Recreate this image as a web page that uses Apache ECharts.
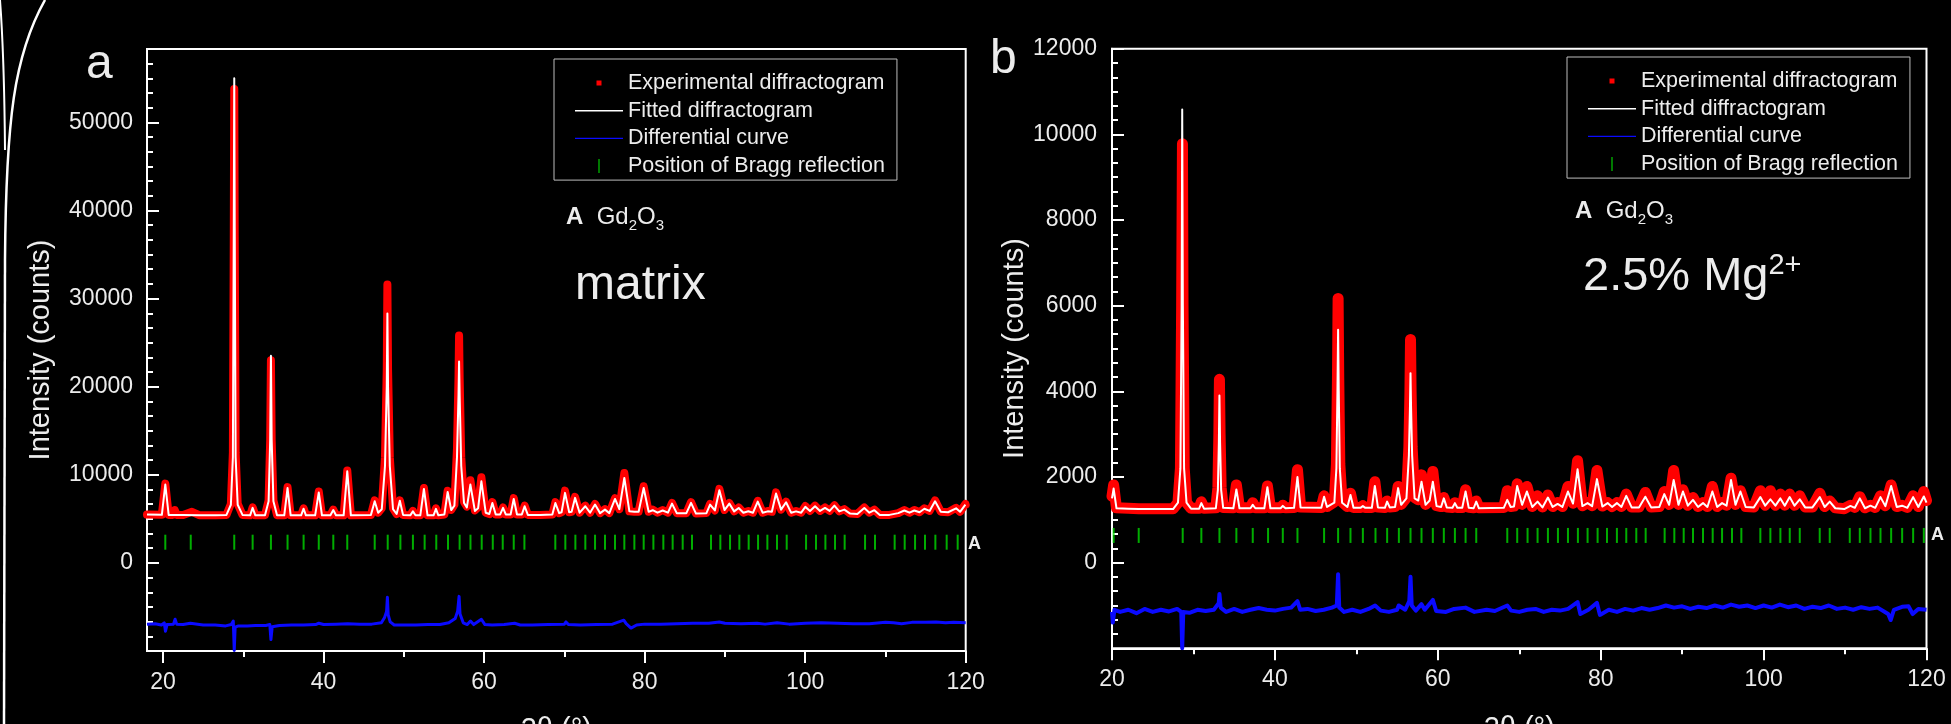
<!DOCTYPE html>
<html><head><meta charset="utf-8">
<script src="https://cdn.jsdelivr.net/npm/echarts@6/dist/echarts.min.js"></script>
<style>html,body{margin:0;padding:0;background:#000;}#c{width:1951px;height:724px;}</style>
</head><body><div id="c"></div>
<script>
// ---------- Panel a (matrix) ----------
const aXTicks = [20, 40, 60, 80, 100, 120];
const aXMinor = [30, 50, 70, 90, 110];
const aYTicks = [-10000, 0, 10000, 20000, 30000, 40000, 50000];
const aYLabels = [0, 10000, 20000, 30000, 40000, 50000];
const aYMinor = [-8333, -6667, -5000, -3333, -1667, 1667, 3333, 5000, 6667, 8333, 11667, 13333, 15000, 16667, 18333,
  21667, 23333, 25000, 26667, 28333, 31667, 33333, 35000, 36667, 38333, 41667, 43333, 45000, 46667, 48333,
  51667, 53333, 55000, 56667];
const aBragg = [20.28, 23.45, 28.87, 31.16, 33.44, 35.51, 37.51, 39.4, 41.21, 42.95, 46.37, 47.99, 49.57, 51.13, 52.59,
  54.04, 55.5, 56.95, 58.3, 59.7, 61.08, 62.32, 63.69, 65.02, 68.87, 70.12, 71.37, 72.61, 73.82, 75.06, 76.31, 77.47,
  78.72, 79.88, 81.09, 82.33, 83.49, 84.74, 85.9, 88.27, 89.43, 90.64, 91.8, 92.96, 94.13, 95.29, 96.49, 97.7, 100.11,
  101.35, 102.52, 103.72, 104.92, 107.46, 108.7, 111.15, 112.4, 113.69, 114.93, 116.22, 117.63, 119.0];
const aBraggLevel = 2350;
const aFit = [[18,5480],[19.85,5460],[20.28,8900],[20.7,5450],[22.5,5430],[24.5,5420],[26.5,5420],[27.9,5450],[28.45,6600],[28.7,12000],[28.81,38000],[28.87,55000],[28.93,38000],[29.04,12000],[29.3,6600],[29.9,5450],[30.85,5400],[31.16,6250],[31.5,5400],[32.7,5420],[33.15,7000],[33.35,14000],[33.44,23500],[33.53,14000],[33.75,7000],[34.2,5420],[35.1,5400],[35.51,8500],[35.9,5400],[37.2,5400],[37.51,6150],[37.8,5400],[38.95,5400],[39.4,8000],[39.8,5400],[40.85,5400],[41.21,6000],[41.55,5400],[42.5,5400],[42.95,10400],[43.4,5400],[45.9,5450],[46.37,7000],[46.8,5700],[47.25,6100],[47.65,11000],[47.87,20000],[47.95,28300],[48.03,20000],[48.25,11000],[48.65,6100],[49.1,5550],[49.5,7050],[49.9,5450],[50.8,5400],[51.13,5850],[51.45,5400],[52.05,5400],[52.5,8400],[52.95,5400],[53.7,5400],[54.0,6130],[54.3,5400],[55.05,5500],[55.46,8050],[55.9,6000],[56.3,6500],[56.62,12000],[56.81,19000],[56.88,22850],[56.95,19000],[57.15,11000],[57.5,6800],[57.85,6300],[58.29,8890],[58.85,5900],[59.25,6200],[59.66,9260],[60.2,5700],[60.65,5550],[61.03,6800],[61.45,5500],[62.0,5500],[62.36,6250],[62.7,5500],[63.3,5500],[63.69,7250],[64.1,5500],[64.7,5500],[65.05,6430],[65.45,5450],[67,5450],[68.5,5500],[68.88,6800],[69.35,5650],[69.65,5750],[70.08,7950],[70.6,5750],[70.9,5800],[71.33,7380],[71.9,5700],[72.61,6430],[73.2,5700],[73.82,6620],[74.45,5650],[75.06,6050],[75.6,5650],[76.31,7260],[76.85,6100],[77.47,9650],[78.1,5850],[78.72,5800],[79.25,5800],[79.88,8510],[80.5,5800],[81.0,5980],[81.6,5700],[82.25,5950],[82.9,5700],[83.41,6730],[84.0,5650],[85.2,5650],[85.78,6810],[86.4,5600],[87.7,5650],[88.15,6620],[88.75,5950],[89.31,8240],[89.95,6000],[90.55,6730],[91.15,5850],[91.72,6240],[92.3,5700],[92.92,5860],[93.5,5700],[94.09,6960],[94.7,5700],[95.33,5850],[95.85,5800],[96.37,7870],[97.0,6050],[97.62,6880],[98.25,5700],[98.86,5850],[99.5,5700],[100.02,6360],[100.6,5900],[101.23,6430],[101.85,5900],[102.47,6240],[103.05,5900],[103.64,6500],[104.25,5850],[104.88,6050],[105.6,5600],[106.5,5550],[107.37,6240],[108.0,5700],[108.62,5980],[109.3,5450],[110.5,5450],[111.6,5650],[112.36,5950],[113.0,5700],[113.6,5950],[114.25,5750],[114.85,6150],[115.5,5900],[116.18,6990],[116.9,5800],[117.8,5750],[118.8,6200],[119.3,5800],[119.96,6620],[120,6550]];
const aExp = [[18,5480],[19.85,5470],[20.28,9000],[20.7,5450],[21.2,5450],[21.45,6000],[21.7,5450],[22.5,5430],[23.6,5800],[24.5,5420],[26.5,5420],[27.9,5450],[28.45,6700],[28.7,12500],[28.81,37000],[28.87,53800],[28.93,37000],[29.04,12500],[29.3,6700],[29.9,5450],[30.85,5400],[31.16,6300],[31.5,5400],[32.7,5420],[33.15,7100],[33.35,14000],[33.44,23000],[33.53,14000],[33.75,7100],[34.2,5420],[35.1,5400],[35.51,8600],[35.9,5400],[37.2,5400],[37.51,6200],[37.8,5400],[38.95,5400],[39.4,8100],[39.8,5400],[40.85,5400],[41.21,6050],[41.55,5400],[42.5,5400],[42.95,10500],[43.4,5400],[45.9,5450],[46.37,7100],[46.8,5700],[47.25,6200],[47.65,12000],[47.87,22000],[47.95,31600],[48.03,22000],[48.25,12000],[48.65,6200],[49.1,5550],[49.5,7100],[49.9,5450],[50.8,5400],[51.13,5900],[51.45,5400],[52.05,5400],[52.5,8500],[52.95,5400],[53.7,5400],[54.0,6200],[54.3,5400],[55.05,5500],[55.46,8200],[55.9,6000],[56.3,6600],[56.62,13000],[56.81,21000],[56.88,25800],[56.95,21000],[57.15,12000],[57.5,6900],[57.85,6400],[58.29,9380],[58.85,5950],[59.25,6300],[59.66,9720],[60.2,5700],[60.65,5550],[61.03,6900],[61.45,5500],[62.0,5500],[62.36,6300],[62.7,5500],[63.3,5500],[63.69,7350],[64.1,5500],[64.7,5500],[65.05,6500],[65.45,5450],[67,5450],[68.5,5500],[68.88,6900],[69.35,5650],[69.65,5750],[70.08,8200],[70.6,5750],[70.9,5800],[71.33,7500],[71.9,5700],[72.61,6500],[73.2,5700],[73.82,6700],[74.45,5650],[75.06,6100],[75.6,5650],[76.31,7350],[76.85,6100],[77.47,10200],[78.1,5850],[78.72,5800],[79.25,5800],[79.88,8700],[80.5,5800],[81.0,6050],[81.6,5700],[82.25,6000],[82.9,5700],[83.41,6800],[84.0,5650],[85.2,5650],[85.78,6900],[86.4,5600],[87.7,5650],[88.15,6700],[88.75,5950],[89.31,8400],[89.95,6000],[90.55,6800],[91.15,5850],[91.72,6300],[92.3,5700],[92.92,5900],[93.5,5700],[94.09,7050],[94.7,5700],[95.33,5900],[95.85,5800],[96.37,8000],[97.0,6050],[97.62,6950],[98.25,5700],[98.86,5900],[99.5,5700],[100.02,6450],[100.6,5900],[101.23,6500],[101.85,5900],[102.47,6300],[103.05,5900],[103.64,6550],[104.25,5850],[104.88,6100],[105.6,5600],[106.5,5550],[107.37,6300],[108.0,5700],[108.62,6050],[109.3,5450],[110.5,5450],[111.6,5650],[112.36,6000],[113.0,5700],[113.6,6000],[114.25,5750],[114.85,6200],[115.5,5900],[116.18,7100],[116.9,5800],[117.8,5750],[118.8,6250],[119.3,5800],[119.96,6700],[120,6600]];
const aDiff = [[18,-6950],[19.0,-6900],[19.8,-7050],[20.15,-6800],[20.3,-7750],[20.5,-7000],[21.3,-6950],[21.5,-6400],[21.7,-6950],[22.5,-7000],[23.4,-6850],[23.6,-7000],[25,-7050],[26.5,-7050],[27.8,-7150],[28.5,-7000],[28.75,-6600],[28.87,-9950],[28.98,-7300],[29.4,-7150],[30.5,-7150],[31.5,-7100],[32.8,-7100],[33.3,-7000],[33.44,-8700],[33.6,-7250],[34.5,-7100],[36,-7050],[37.5,-7050],[39,-7000],[39.4,-6850],[40,-7000],[41.5,-6950],[43,-6900],[44.5,-6950],[46,-6950],[47.2,-6800],[47.6,-6200],[47.85,-5500],[47.95,-3900],[48.05,-5900],[48.3,-6700],[48.8,-7050],[50,-7050],[51.5,-7050],[53,-7000],[54.5,-7000],[55.6,-6800],[56.4,-6300],[56.7,-5500],[56.88,-3800],[57.0,-5800],[57.4,-6800],[57.9,-7000],[58.3,-6600],[58.7,-7000],[59.66,-6400],[60.1,-7000],[61,-7050],[62.5,-7000],[63.8,-6850],[64.5,-7050],[66,-7050],[68,-7000],[70,-6950],[70.2,-6700],[70.5,-7000],[72,-7050],[74,-7000],[76,-6950],[77.4,-6500],[77.7,-6900],[78.3,-7400],[79,-7050],[80,-6950],[82,-6950],[84,-6900],[86,-6850],[88,-6850],[89.3,-6700],[90,-6850],[92,-6900],[94,-6850],[95,-6950],[96.5,-6800],[98,-6950],[100,-6850],[102,-6800],[104,-6850],[106,-6900],[108,-6900],[110,-6750],[111,-6800],[112,-6900],[113.3,-6750],[115,-6750],[116.3,-6700],[117.5,-6800],[118.5,-6750],[120,-6800]];

// ---------- Panel b (2.5% Mg2+) ----------
const bBragg = [20.2, 23.28, 28.68, 30.97, 33.19, 35.27, 37.28, 39.16, 40.97, 42.77, 46.04, 47.76, 49.28, 50.8, 52.35,
  53.78, 55.22, 56.65, 58.0, 59.39, 60.74, 62.1, 63.41, 64.72, 68.53, 69.75, 71.02, 72.25, 73.52, 74.75, 75.98, 77.2,
  78.39, 79.62, 80.77, 81.99, 83.14, 84.37, 85.52, 87.85, 89.04, 90.19, 91.33, 92.56, 93.75, 94.9, 96.12, 97.27, 99.6,
  100.83, 102.06, 103.21, 104.44, 106.89, 108.12, 110.58, 111.81, 113.12, 114.35, 115.66, 117.01, 118.36, 119.67];
const bBraggLevel = 635;
const bFit = [[20,1500],[20.2,1730],[20.55,1270],[22,1260],[23.3,1250],[25,1250],[27.5,1250],[28.1,1400],[28.4,2200],[28.55,6000],[28.62,10580],[28.7,6000],[28.85,2200],[29.15,1400],[29.7,1260],[30.7,1260],[30.97,1390],[31.3,1260],[32.75,1270],[33.0,1700],[33.12,2800],[33.19,3900],[33.27,2800],[33.4,1700],[33.65,1280],[34.9,1270],[35.27,1710],[35.65,1270],[37.0,1270],[37.28,1350],[37.6,1270],[38.7,1270],[39.08,1760],[39.45,1270],[40.7,1270],[40.97,1325],[41.3,1270],[42.35,1280],[42.77,2000],[43.15,1290],[45.7,1280],[46.04,1540],[46.4,1300],[47.3,1400],[47.55,2200],[47.68,4000],[47.76,5440],[47.84,4000],[47.97,2200],[48.25,1400],[48.9,1300],[49.28,1580],[49.65,1280],[50.5,1280],[50.8,1320],[51.1,1280],[51.9,1280],[52.27,1790],[52.65,1290],[53.5,1280],[53.78,1425],[54.1,1290],[54.75,1300],[55.13,1740],[55.5,1350],[56.15,1500],[56.45,2500],[56.58,3600],[56.65,4425],[56.72,3600],[56.85,2500],[57.15,1500],[57.6,1450],[58.0,1890],[58.5,1350],[59.0,1450],[59.39,1890],[59.85,1320],[60.4,1300],[60.74,1500],[61.1,1290],[61.8,1280],[62.1,1390],[62.4,1280],[63.0,1280],[63.41,1660],[63.8,1280],[64.4,1270],[64.72,1425],[65.05,1270],[68.1,1280],[68.53,1465],[68.95,1300],[69.35,1310],[69.75,1790],[70.35,1350],[70.94,1660],[71.6,1300],[72.25,1425],[72.85,1290],[73.52,1520],[74.1,1300],[74.71,1370],[75.3,1300],[75.98,1660],[76.6,1380],[77.16,2180],[77.75,1320],[78.39,1390],[78.95,1320],[79.54,1950],[80.2,1310],[80.85,1390],[81.4,1300],[81.99,1390],[82.55,1300],[83.14,1560],[83.8,1290],[84.7,1290],[85.48,1540],[86.2,1290],[87.2,1300],[87.81,1600],[88.4,1350],[88.96,1930],[89.55,1350],[90.1,1660],[90.7,1330],[91.33,1465],[91.95,1300],[92.56,1390],[93.1,1300],[93.71,1660],[94.3,1300],[94.9,1390],[95.45,1330],[96.0,1930],[96.55,1350],[97.15,1660],[97.8,1300],[98.8,1290],[99.6,1530],[100.2,1330],[100.83,1480],[101.45,1330],[102.06,1500],[102.6,1330],[103.2,1530],[103.8,1330],[104.44,1480],[105.1,1290],[106.0,1290],[106.9,1530],[107.5,1300],[108.12,1425],[108.8,1270],[109.9,1250],[110.66,1325],[111.2,1280],[111.81,1500],[112.45,1270],[113.12,1330],[113.7,1280],[114.35,1530],[114.95,1320],[115.66,1790],[116.35,1300],[117.0,1330],[117.65,1280],[118.36,1530],[119.0,1300],[119.67,1545],[120,1400]];
const bExp = [[20,1550],[20.2,1815],[20.55,1280],[22,1270],[23.3,1260],[25,1260],[27.5,1260],[28.1,1400],[28.4,2200],[28.55,6000],[28.65,9780],[28.72,6000],[28.87,2200],[29.15,1400],[29.7,1270],[30.7,1270],[30.97,1420],[31.3,1270],[32.75,1280],[33.0,1750],[33.12,3000],[33.19,4280],[33.27,3000],[33.4,1750],[33.65,1290],[34.9,1280],[35.27,1815],[35.65,1280],[37.0,1280],[37.28,1400],[37.6,1280],[38.7,1280],[39.08,1790],[39.45,1280],[40.7,1280],[40.97,1340],[41.3,1280],[42.35,1290],[42.77,2170],[43.15,1300],[45.7,1290],[46.04,1560],[46.4,1310],[47.3,1420],[47.55,2300],[47.68,4300],[47.76,6170],[47.84,4300],[47.97,2300],[48.25,1420],[48.9,1310],[49.28,1620],[49.65,1290],[50.5,1290],[50.8,1330],[51.1,1290],[51.9,1290],[52.27,1890],[52.65,1300],[53.5,1290],[53.78,1440],[54.1,1300],[54.75,1310],[55.13,1780],[55.5,1360],[56.15,1520],[56.45,2700],[56.58,4000],[56.65,5210],[56.72,4000],[56.85,2700],[57.15,1520],[57.6,1470],[58.0,2050],[58.5,1360],[59.0,1460],[59.39,2130],[59.85,1330],[60.4,1310],[60.74,1520],[61.1,1300],[61.8,1290],[62.1,1400],[62.4,1290],[63.0,1290],[63.41,1700],[63.8,1290],[64.4,1280],[64.72,1440],[65.05,1280],[68.1,1290],[68.53,1680],[68.95,1310],[69.35,1320],[69.75,1840],[70.35,1360],[70.94,1780],[71.6,1310],[72.25,1560],[72.85,1300],[73.52,1580],[74.1,1310],[74.71,1400],[75.3,1310],[75.98,1780],[76.6,1390],[77.16,2380],[77.75,1330],[78.39,1400],[78.95,1330],[79.54,2150],[80.2,1320],[80.85,1400],[81.4,1310],[81.99,1400],[82.55,1310],[83.14,1600],[83.8,1300],[84.7,1300],[85.48,1640],[86.2,1300],[87.2,1310],[87.81,1660],[88.4,1360],[88.96,2150],[89.55,1360],[90.1,1700],[90.7,1340],[91.33,1520],[91.95,1310],[92.56,1400],[93.1,1310],[93.71,1780],[94.3,1310],[94.9,1400],[95.45,1340],[96.0,1970],[96.55,1360],[97.15,1680],[97.8,1310],[98.8,1300],[99.6,1680],[100.2,1340],[100.83,1680],[101.45,1340],[102.06,1600],[102.6,1340],[103.2,1600],[103.8,1340],[104.44,1560],[105.1,1300],[106.0,1300],[106.9,1620],[107.5,1310],[108.12,1440],[108.8,1280],[109.9,1260],[110.66,1340],[111.2,1290],[111.81,1540],[112.45,1280],[113.12,1340],[113.7,1290],[114.35,1560],[114.95,1330],[115.66,1815],[116.35,1310],[117.0,1340],[117.65,1290],[118.36,1560],[119.0,1310],[119.67,1660],[120,1450]];
const bDiff = [[20,-1150],[20.1,-1400],[20.3,-1100],[21,-1150],[22,-1100],[23,-1180],[24,-1080],[25,-1150],[26,-1100],[27,-1140],[28,-1080],[28.5,-1150],[28.62,-2000],[28.75,-1150],[29.5,-1170],[30.5,-1100],[31.5,-1130],[32.5,-1100],[33.1,-950],[33.19,-730],[33.35,-1050],[34,-1150],[35,-1080],[36,-1150],[37,-1100],[38,-1060],[39,-1100],[40,-1120],[41,-1080],[42,-1050],[42.77,-900],[43.1,-1100],[44,-1080],[45,-1130],[46,-1100],[47,-1050],[47.6,-1000],[47.76,-270],[47.9,-1050],[48.5,-1150],[49.5,-1100],[50.5,-1150],[51.5,-1080],[52.3,-1000],[53,-1120],[54,-1150],[55,-1100],[55.2,-1000],[56.0,-1100],[56.5,-900],[56.65,-330],[56.8,-1000],[57.3,-1120],[58.0,-970],[58.4,-1100],[59.39,-870],[59.8,-1130],[61,-1150],[62,-1080],[63.4,-1050],[64.5,-1150],[66,-1100],[67,-1130],[68.53,-1000],[69,-1120],[70,-1150],[71,-1100],[72,-1080],[73,-1150],[74,-1100],[75,-1120],[76,-1080],[77.16,-920],[77.5,-1200],[78.5,-1100],[79.54,-940],[79.9,-1220],[81,-1100],[82,-1150],[83,-1080],[84,-1120],[85,-1060],[86,-1100],[87,-1060],[88,-1000],[89,-1050],[90,-1020],[91,-1080],[92,-1030],[93,-1060],[94,-1000],[95,-1050],[96,-980],[97,-1030],[98,-1000],[99,-1060],[100,-1000],[101,-1050],[102,-980],[103,-1040],[104,-1000],[105,-1080],[106,-1030],[107,-1060],[108,-1000],[109,-1080],[110,-1050],[111,-1100],[112,-1040],[113,-1080],[114,-1050],[115.3,-1200],[115.6,-1340],[116,-1100],[117,-1030],[117.8,-1020],[118.3,-1200],[119,-1080],[120,-1100]];

// ---------- style ----------
const FONT = "'Liberation Sans', Arial, Helvetica, sans-serif";
const TXT = '#ececec';
const AX = '#ffffff';
const RED = '#ff0000', WHITE = '#ffffff', BLUE = '#0a0aff', GREEN = '#00d800';
const NAMES = ['Experimental diffractogram', 'Fitted diffractogram', 'Differential curve', 'Position of Bragg reflection'];
const fmt = v => String(Math.round(v));

const chart = echarts.init(document.getElementById('c'));

function legendFor(left, top) {
  return {
    left: left, top: top, orient: 'vertical', padding: [13, 12, 3, 21], itemGap: 5.7,
    itemWidth: 48, itemHeight: 14, borderColor: '#bdbdbd', borderWidth: 1, selectedMode: false,
    itemStyle: { borderWidth: 0 },
    textStyle: { color: TXT, fontSize: 21.5, fontFamily: FONT, lineHeight: 21 },
    data: [
      { name: NAMES[0], icon: 'path://M0,0M48,14M21.5,4.5h5v5h-5z' },
      { name: NAMES[1], icon: 'path://M0,0M48,14M0,6.3h48v1.4h-48z' },
      { name: NAMES[2], icon: 'path://M0,0M48,14M0,6.3h48v1.4h-48z' },
      { name: NAMES[3], icon: 'path://M0,0M48,14M23.3,0h1.4v14h-1.4z' }
    ]
  };
}

function seriesFor(xi, yi, exp, fit, diff, bragg, level, redW, diffW) {
  return [
    { name: NAMES[0], type: 'line', xAxisIndex: xi, yAxisIndex: yi, data: exp, symbol: 'none', showSymbol: false,
      color: RED, itemStyle: { color: RED }, lineStyle: { color: RED, width: redW, join: 'round', cap: 'round' }, z: 2, silent: true },
    { name: NAMES[1], type: 'line', xAxisIndex: xi, yAxisIndex: yi, data: fit, symbol: 'none', showSymbol: false,
      color: WHITE, itemStyle: { color: WHITE }, lineStyle: { color: WHITE, width: 2, join: 'round' }, z: 3, silent: true },
    { name: NAMES[2], type: 'line', xAxisIndex: xi, yAxisIndex: yi, data: diff, symbol: 'none', showSymbol: false,
      color: BLUE, itemStyle: { color: BLUE }, lineStyle: { color: BLUE, width: diffW, join: 'round' }, z: 3, silent: true },
    { name: NAMES[3], type: 'scatter', xAxisIndex: xi, yAxisIndex: yi, data: bragg.map(v => [v, level]),
      symbol: 'rect', symbolSize: [2, 15], color: GREEN, itemStyle: { color: GREEN }, z: 3, silent: true }
  ];
}

const lineSt = { color: AX, width: 2 };
const gdRich = {
  b: { fontSize: 24, fontWeight: 'bold', fontFamily: FONT, fill: TXT, lineHeight: 26, verticalAlign: 'top' },
  n: { fontSize: 24, fontFamily: FONT, fill: TXT, lineHeight: 26, verticalAlign: 'top' },
  s: { fontSize: 15, fontFamily: FONT, fill: TXT, lineHeight: 16, padding: [13, 0, 0, 0], verticalAlign: 'top' }
};
const option = {
  backgroundColor: '#000',
  animation: false,
  grid: [
    { left: 147, top: 49, width: 818.7, height: 602, show: true, borderColor: AX, borderWidth: 2, backgroundColor: 'transparent',
      containLabel: false, outerBoundsMode: 'none' },
    { left: 1112, top: 48.7, width: 814.5, height: 599.6, show: true, borderColor: AX, borderWidth: 2, backgroundColor: 'transparent',
      containLabel: false, outerBoundsMode: 'none' }
  ],
  xAxis: [
    { gridIndex: 0, type: 'value', min: 18, max: 120, position: 'bottom',
      axisLine: { show: true, onZero: false, lineStyle: lineSt },
      axisTick: { show: true, inside: false, length: 12, customValues: aXTicks, lineStyle: lineSt },
      axisLabel: { customValues: aXTicks, color: TXT, fontSize: 23, fontFamily: FONT, margin: 20, formatter: fmt },
      splitLine: { show: false },
      name: '2θ (°)', nameLocation: 'middle', nameGap: 64, nameTextStyle: { color: TXT, fontSize: 29, fontFamily: FONT } },
    { gridIndex: 0, type: 'value', min: 18, max: 120, position: 'bottom',
      axisLine: { show: false, onZero: false },
      axisTick: { show: true, inside: false, length: 6, customValues: aXMinor, lineStyle: lineSt },
      axisLabel: { show: false }, splitLine: { show: false } },
    { gridIndex: 1, type: 'value', min: 20, max: 120, interval: 20, position: 'bottom',
      axisLine: { show: true, onZero: false, lineStyle: lineSt },
      axisTick: { show: true, inside: false, length: 12, lineStyle: lineSt },
      minorTick: { show: true, splitNumber: 2, length: 6, lineStyle: lineSt },
      axisLabel: { color: TXT, fontSize: 23, fontFamily: FONT, margin: 20, formatter: fmt },
      splitLine: { show: false }, minorSplitLine: { show: false },
      name: '2θ (°)', nameLocation: 'middle', nameGap: 66, nameTextStyle: { color: TXT, fontSize: 29, fontFamily: FONT } }
  ],
  yAxis: [
    { gridIndex: 0, type: 'value', min: -10000, max: 58333, position: 'left',
      axisLine: { show: true, onZero: false, lineStyle: lineSt },
      axisTick: { show: true, inside: true, length: 12, customValues: aYTicks, lineStyle: lineSt },
      axisLabel: { customValues: aYLabels, color: TXT, fontSize: 23, fontFamily: FONT, margin: 14, formatter: fmt },
      splitLine: { show: false },
      name: 'Intensity (counts)', nameLocation: 'middle', nameGap: 92, nameTextStyle: { color: TXT, fontSize: 29, fontFamily: FONT } },
    { gridIndex: 0, type: 'value', min: -10000, max: 58333, position: 'left',
      axisLine: { show: false, onZero: false },
      axisTick: { show: true, inside: true, length: 6, customValues: aYMinor, lineStyle: lineSt },
      axisLabel: { show: false }, splitLine: { show: false } },
    { gridIndex: 1, type: 'value', min: -2000, max: 12000, interval: 2000, position: 'left',
      axisLine: { show: true, onZero: false, lineStyle: lineSt },
      axisTick: { show: true, inside: true, length: 12, lineStyle: lineSt },
      minorTick: { show: true, splitNumber: 6, length: 6, lineStyle: lineSt },
      axisLabel: { color: TXT, fontSize: 23, fontFamily: FONT, margin: 15, showMinLabel: false, formatter: fmt },
      splitLine: { show: false }, minorSplitLine: { show: false },
      name: 'Intensity (counts)', nameLocation: 'middle', nameGap: 80, nameTextStyle: { color: TXT, fontSize: 29, fontFamily: FONT } }
  ],
  legend: [legendFor(554, 59), legendFor(1567, 57)],
  series: [].concat(
    seriesFor(0, 0, aExp, aFit, aDiff, aBragg, aBraggLevel, 8, 3),
    seriesFor(2, 2, bExp, bFit, bDiff, bBragg, bBraggLevel, 11, 4)
  ),
  graphic: [
    { type: 'bezierCurve', silent: true, shape: { x1: 45, y1: 0, cpx1: 14, cpy1: 55, cpx2: 6, cpy2: 120, x2: 5, y2: 260 },
      style: { stroke: '#fff', lineWidth: 2.5, fill: null } },
    { type: 'bezierCurve', silent: true, shape: { x1: 0, y1: 0, cpx1: 3, cpy1: 40, cpx2: 4.5, cpy2: 90, x2: 5, y2: 150 },
      style: { stroke: '#fff', lineWidth: 2, fill: null } },
    { type: 'line', silent: true, shape: { x1: 5, y1: 260, x2: 4, y2: 724 }, style: { stroke: '#fff', lineWidth: 2.5 } },
    { type: 'text', silent: true, x: 86, y: 65, style: { text: 'a', fontSize: 48, fontFamily: FONT, fill: TXT, verticalAlign: 'middle' } },
    { type: 'text', silent: true, x: 990, y: 60, style: { text: 'b', fontSize: 48, fontFamily: FONT, fill: TXT, verticalAlign: 'middle' } },
    { type: 'text', silent: true, x: 566, y: 218, style: { text: '{b|A}  {n|Gd}{s|2}{n|O}{s|3}', fill: TXT, fontSize: 24, fontFamily: FONT, verticalAlign: 'middle', rich: gdRich } },
    { type: 'text', silent: true, x: 1575, y: 212, style: { text: '{b|A}  {n|Gd}{s|2}{n|O}{s|3}', fill: TXT, fontSize: 24, fontFamily: FONT, verticalAlign: 'middle', rich: gdRich } },
    { type: 'text', silent: true, x: 575, y: 286, style: { text: 'matrix', fontSize: 48, fontFamily: FONT, fill: TXT, verticalAlign: 'middle' } },
    { type: 'text', silent: true, x: 1583, y: 276, style: { text: '{m|2.5% Mg}{p|2+}', fill: TXT, fontFamily: FONT, verticalAlign: 'middle',
      rich: { m: { fontSize: 47, fontFamily: FONT, fill: TXT, lineHeight: 50, verticalAlign: 'bottom' },
              p: { fontSize: 29, fontFamily: FONT, fill: TXT, lineHeight: 30, verticalAlign: 'top' } } } },
    { type: 'text', silent: true, x: 968, y: 544, style: { text: 'A', fontSize: 18, fontWeight: 'bold', fontFamily: FONT, fill: TXT, verticalAlign: 'middle' } },
    { type: 'text', silent: true, x: 1931, y: 535, style: { text: 'A', fontSize: 18, fontWeight: 'bold', fontFamily: FONT, fill: TXT, verticalAlign: 'middle' } }
  ]
};
chart.setOption(option);
</script></body></html>
